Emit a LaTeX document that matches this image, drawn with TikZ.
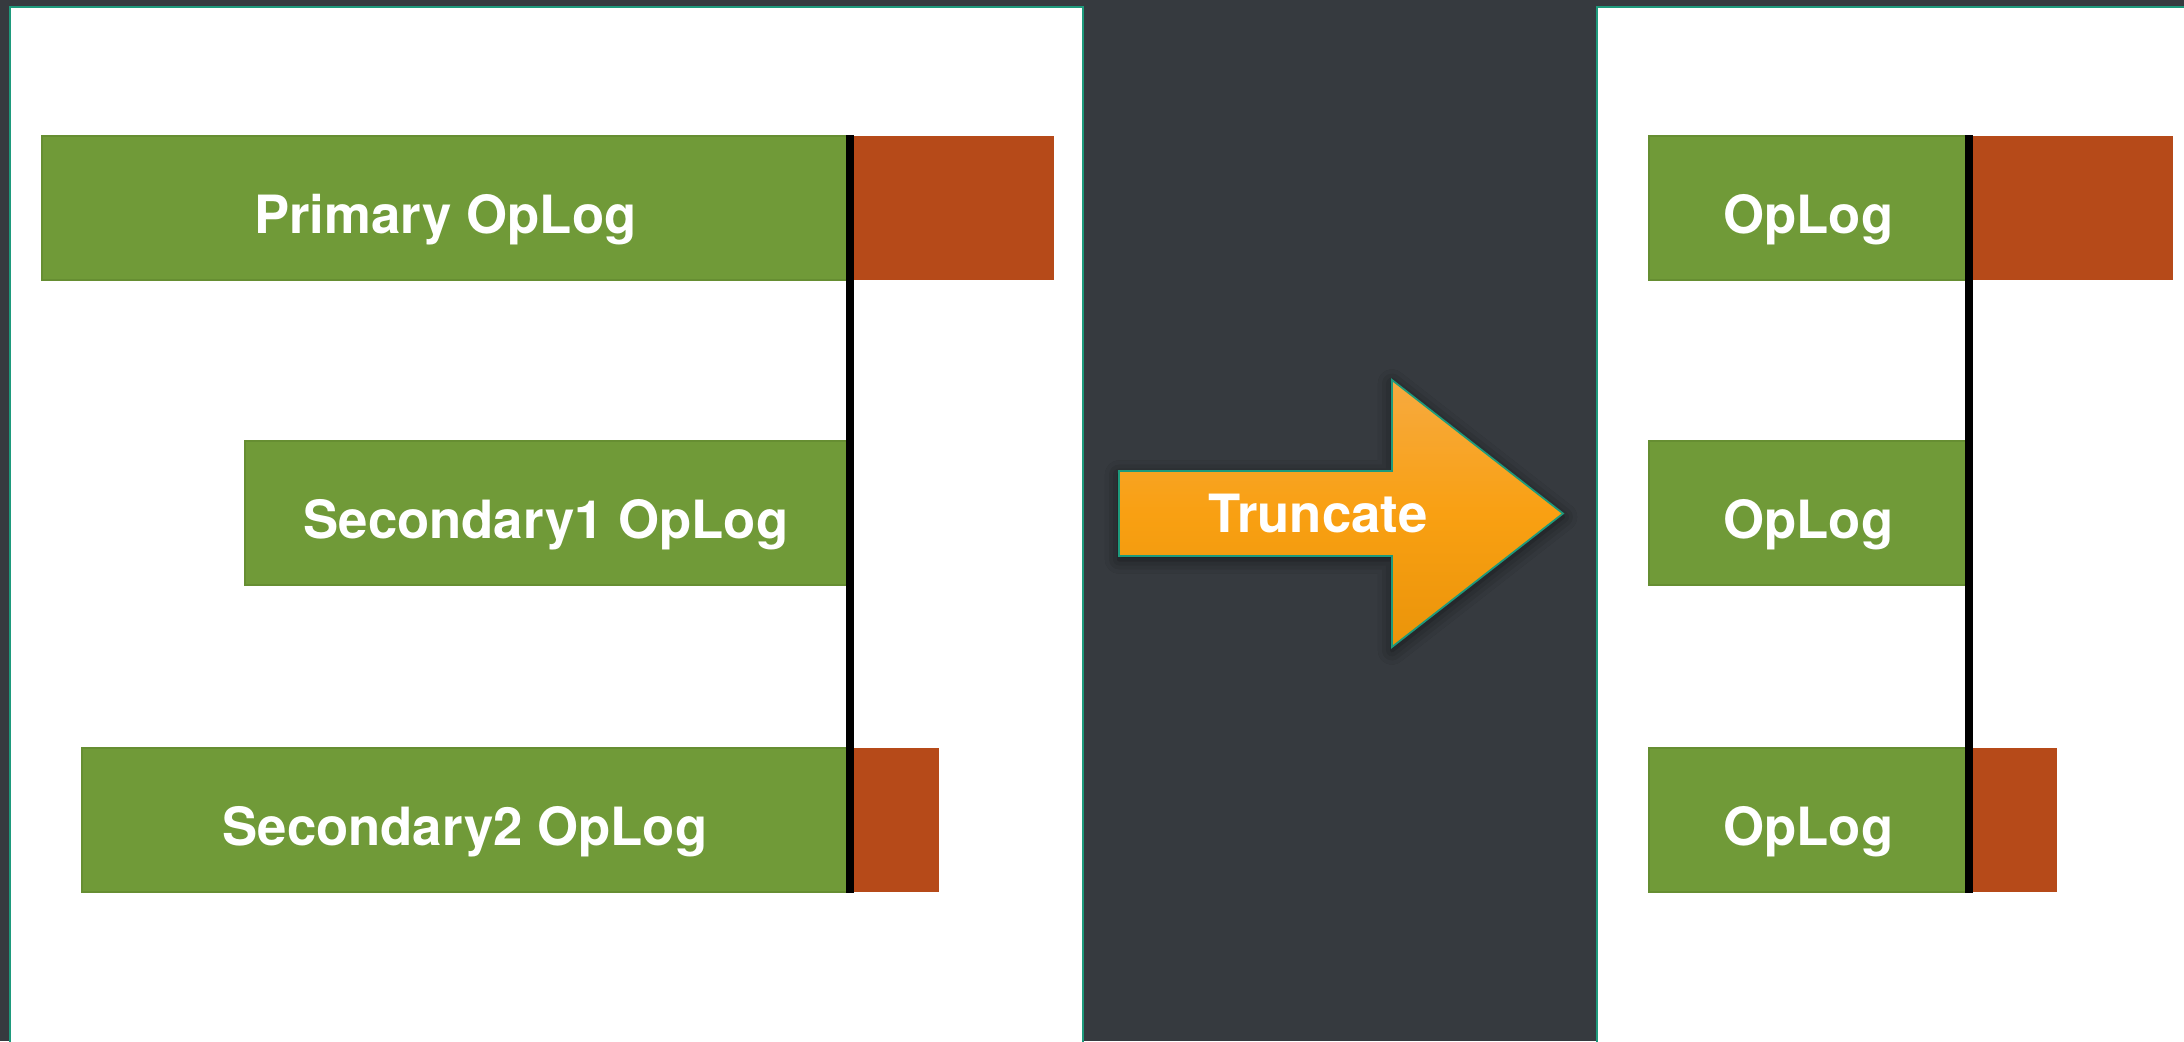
\documentclass[tikz,border=0pt]{standalone}
\usepackage{fontspec}
\setmainfont{TeX Gyre Heros}
\usetikzlibrary{shadows.blur}
\definecolor{slate}{HTML}{363A3F}
\definecolor{panelrim}{HTML}{1E9A7C}
\definecolor{loggreen}{HTML}{709A38}
\definecolor{logrim}{HTML}{668E32}
\definecolor{lagred}{HTML}{B64A19}
\definecolor{arrowtop}{HTML}{F6AA40}
\definecolor{arrowmid}{HTML}{F9A012}
\definecolor{arrowbot}{HTML}{EA940A}
\tikzset{
  panel/.style={fill=white, draw=panelrim, line width=0.6pt},
  oplog/.style={fill=loggreen, draw=logrim, line width=0.5pt, anchor=west, minimum height=1.44cm, inner sep=0pt,
    text height=0.50cm, text depth=0pt, text=white, font=\fontsize{15}{18}\selectfont\bfseries},
  lag/.style={fill=lagred, anchor=west, minimum height=1.44cm, inner sep=0pt},
  cut/.style={black, line width=2.3pt}
}
\begin{document}
\begin{tikzpicture}
\fill[slate] (0,0) rectangle (21.84,10.41);
\useasboundingbox (0,0) rectangle (21.84,10.41);
\draw[panel] (0.10,-0.2) rectangle (10.83,10.34);
\draw[panel] (15.97,-0.2) rectangle (22.2,10.34);
%
\node(prim)[oplog, minimum width=8.07cm] at (0.41,8.33) {Primary OpLog};
\node(primlag)[lag, minimum width=2.04cm] at (prim.east) {};
\node(sec1)[oplog, minimum width=6.02cm] at (2.44,5.28) {Secondary1 OpLog};
\node(sec2)[oplog, minimum width=7.66cm] at (0.81,2.21) {Secondary2 OpLog};
\node(sec2lag)[lag, minimum width=0.90cm] at (sec2.east) {};
\draw[cut] (prim.north east) -- (prim.east |- sec2.south);
%
\fill[top color=arrowtop, bottom color=arrowbot, middle color=arrowmid, draw=panelrim, line width=0.5pt,
  blur shadow={shadow xshift=0pt, shadow yshift=-1pt, shadow blur radius=4pt, shadow opacity=60}]
  (11.19,5.70) -- (13.92,5.70) -- (13.92,6.61) -- (15.63,5.275) -- (13.92,3.94) -- (13.92,4.85) -- (11.19,4.85) -- cycle;
\node(trunc)[text=white, font=\fontsize{15}{18}\selectfont\bfseries] at (13.18,5.27) {Truncate};
%
\node(rprim)[oplog, minimum width=3.19cm] at (16.48,8.33) {OpLog};
\node(rprimlag)[lag, minimum width=2.04cm] at (rprim.east) {};
\node(rsec1)[oplog, minimum width=3.19cm] at (16.48,5.28) {OpLog};
\node(rsec2)[oplog, minimum width=3.19cm] at (16.48,2.21) {OpLog};
\node(rsec2lag)[lag, minimum width=0.88cm] at (rsec2.east) {};
\draw[cut] (rprim.north east) -- (rprim.east |- rsec2.south);
\end{tikzpicture}
\end{document}
